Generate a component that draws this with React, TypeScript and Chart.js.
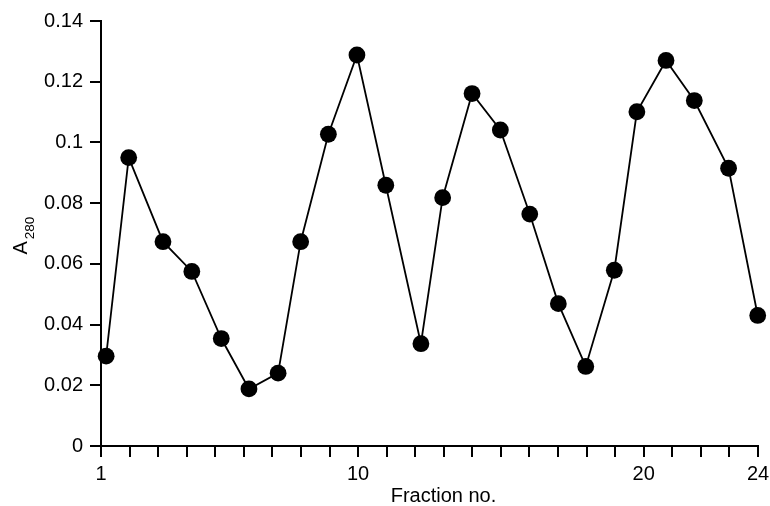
import React, { useEffect, useRef } from "react";
import { Chart, registerables } from "chart.js";

Chart.register(...registerables);

const fractionNo = [1.18, 1.97, 3.17, 4.18, 5.21, 6.18, 7.2, 7.99, 8.96, 9.96, 10.97, 12.2, 12.96, 13.99, 14.98, 16.01, 17.01, 17.97, 18.97, 19.76, 20.78, 21.77, 22.97, 23.99];
const a280 = [0.0296, 0.095, 0.0673, 0.0575, 0.0354, 0.0188, 0.024, 0.0673, 0.1027, 0.1288, 0.0859, 0.0337, 0.0818, 0.1161, 0.1041, 0.0764, 0.0469, 0.0262, 0.0579, 0.1101, 0.127, 0.1138, 0.0915, 0.043];

const xTicks = [1, 2, 3, 4, 5, 6, 7, 8, 9, 10, 11, 12, 13, 14, 15, 16, 17, 18, 19, 20, 21, 22, 23, 24];
const xTickLabels = ["1", "10", "20", "24"];
const yTicks = [0, 0.02, 0.04, 0.06, 0.08, 0.1, 0.12, 0.14];
const yTickLabels = ["0", "0.02", "0.04", "0.06", "0.08", "0.1", "0.12", "0.14"];

const xTitle = "Fraction no.";
const yTitleMain = "A";
const yTitleSub = "280";

const FONT = "'Liberation Sans', Arial, Helvetica, sans-serif";

const titlePlugin = {
  id: "axisTitles",
  afterDraw(chart: any) {
    const ctx = chart.ctx as CanvasRenderingContext2D;
    const ca = chart.chartArea;
    ctx.save();
    ctx.fillStyle = "#000";
    ctx.font = `20px ${FONT}`;
    ctx.textAlign = "center";
    ctx.textBaseline = "alphabetic";
    ctx.fillText(xTitle, (ca.left + ca.right) / 2 + 14, 502);
    ctx.translate(27, (ca.top + ca.bottom) / 2 + 21);
    ctx.rotate(-Math.PI / 2);
    ctx.textAlign = "left";
    ctx.fillText(yTitleMain, 0, 0);
    const w = ctx.measureText(yTitleMain).width;
    ctx.font = `13.5px ${FONT}`;
    ctx.fillText(yTitleSub, w + 2, 7);
    ctx.restore();
  },
};

export default function App() {
  const ref = useRef<HTMLCanvasElement | null>(null);
  useEffect(() => {
    if (!ref.current) return;
    const chart = new Chart(ref.current, {
      type: "line",
      data: {
        datasets: [
          {
            data: fractionNo.map((x, i) => ({ x, y: a280[i] })),
            borderColor: "#000",
            borderWidth: 1.8,
            pointRadius: 8.4,
            pointBackgroundColor: "#000",
            pointBorderColor: "#000",
            pointBorderWidth: 0,
            pointHoverRadius: 8.4,
            tension: 0,
            clip: false as any,
          },
        ],
      },
      options: {
        animation: false,
        responsive: false,
        devicePixelRatio: 1,
        layout: { padding: { top: 21, right: 12, left: 0, bottom: 0 } },
        plugins: { legend: { display: false }, tooltip: { enabled: false } },
        scales: {
          x: {
            type: "linear",
            min: 1,
            max: 24,
            afterBuildTicks: (s: any) => {
              s.ticks = xTicks.map((v) => ({ value: v }));
            },
            afterFit: (s: any) => {
              s.height = 60;
              s.paddingLeft = 0;
              s.paddingRight = 0;
            },
            grid: { drawOnChartArea: false, drawTicks: true, tickLength: 11, color: "#000", lineWidth: 2 },
            border: { display: true, color: "#000", width: 2 },
            ticks: {
              autoSkip: false,
              maxRotation: 0,
              color: "#000",
              padding: 5,
              font: { family: FONT, size: 20 },
              callback: (v: any) => (xTickLabels.includes(String(v)) ? String(v) : ""),
            },
          },
          y: {
            type: "linear",
            min: 0,
            max: 0.14,
            afterBuildTicks: (s: any) => {
              s.ticks = yTicks.map((v) => ({ value: v }));
            },
            afterFit: (s: any) => {
              s.width = 101;
              s.paddingTop = 0;
              s.paddingBottom = 0;
            },
            grid: { drawOnChartArea: false, drawTicks: true, tickLength: 11, color: "#000", lineWidth: 2 },
            border: { display: true, color: "#000", width: 2 },
            ticks: {
              color: "#000",
              padding: 7,
              font: { family: FONT, size: 20 },
              callback: (_v: any, i: number) => yTickLabels[i],
            },
          },
        },
      },
      plugins: [titlePlugin],
    });
    return () => chart.destroy();
  }, []);
  return (
    <div style={{ position: "absolute", left: 0, top: 0, width: 770, height: 506, background: "#fff" }}>
      <canvas ref={ref} width={770} height={506} style={{ display: "block" }} />
    </div>
  );
}
